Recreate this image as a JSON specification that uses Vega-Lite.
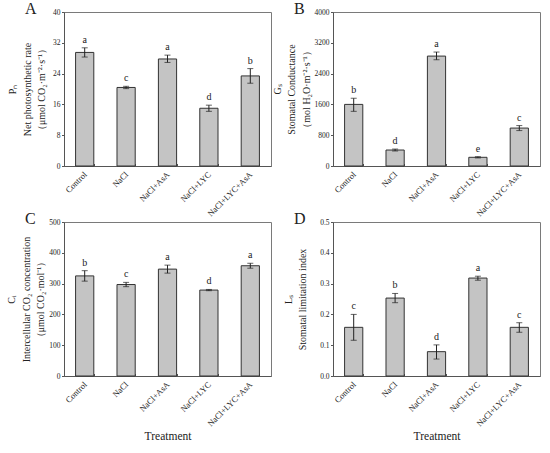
{
  "$schema": "https://vega.github.io/schema/vega-lite/v6.json",
  "background": "white",
  "padding": {"left": 6, "top": 0, "right": 4, "bottom": 4},
  "datasets": {
    "pn": [
      {"treatment": "Control", "mean": 29.5, "lo": 28.3, "hi": 30.7, "letter": "a"},
      {"treatment": "NaCl", "mean": 20.4, "lo": 20.1, "hi": 20.7, "letter": "c"},
      {"treatment": "NaCl+AsA", "mean": 27.8, "lo": 26.9, "hi": 28.8, "letter": "a"},
      {"treatment": "NaCl+LYC", "mean": 15.0, "lo": 14.2, "hi": 15.8, "letter": "d"},
      {"treatment": "NaCl+LYC+AsA", "mean": 23.4, "lo": 21.5, "hi": 25.3, "letter": "b"}
    ],
    "gs": [
      {"treatment": "Control", "mean": 1600, "lo": 1420, "hi": 1760, "letter": "b"},
      {"treatment": "NaCl", "mean": 415, "lo": 390, "hi": 440, "letter": "d"},
      {"treatment": "NaCl+AsA", "mean": 2855, "lo": 2760, "hi": 2960, "letter": "a"},
      {"treatment": "NaCl+LYC", "mean": 226, "lo": 210, "hi": 242, "letter": "e"},
      {"treatment": "NaCl+LYC+AsA", "mean": 985, "lo": 920, "hi": 1050, "letter": "c"}
    ],
    "ci": [
      {"treatment": "Control", "mean": 325, "lo": 308, "hi": 342, "letter": "b"},
      {"treatment": "NaCl", "mean": 297, "lo": 290, "hi": 304, "letter": "c"},
      {"treatment": "NaCl+AsA", "mean": 347, "lo": 334, "hi": 360, "letter": "a"},
      {"treatment": "NaCl+LYC", "mean": 279, "lo": 277, "hi": 281, "letter": "d"},
      {"treatment": "NaCl+LYC+AsA", "mean": 358, "lo": 350, "hi": 366, "letter": "a"}
    ],
    "ls": [
      {"treatment": "Control", "mean": 0.158, "lo": 0.116, "hi": 0.2, "letter": "c"},
      {"treatment": "NaCl", "mean": 0.253, "lo": 0.238, "hi": 0.268, "letter": "b"},
      {"treatment": "NaCl+AsA", "mean": 0.079, "lo": 0.055, "hi": 0.101, "letter": "d"},
      {"treatment": "NaCl+LYC", "mean": 0.318, "lo": 0.311, "hi": 0.324, "letter": "a"},
      {"treatment": "NaCl+LYC+AsA", "mean": 0.158, "lo": 0.142, "hi": 0.173, "letter": "c"}
    ]
  },
  "columns": 2,
  "bounds": "flush",
  "spacing": {"column": 62, "row": 56},
  "resolve": {"scale": {"y": "independent"}},
  "concat": [
    {
      "title": "A",
      "width": 207,
      "height": 154,
      "data": {"name": "pn"},
      "encoding": {
        "x": {"field": "treatment", "type": "nominal", "sort": null, "scale": {"paddingInner": 0.56, "paddingOuter": 0.28}, "axis": {"title": null}}
      },
      "layer": [
        {
          "mark": {"type": "bar", "fill": "#c4c4c4", "stroke": "#333333", "strokeWidth": 1},
          "encoding": {
            "y": {"field": "mean", "type": "quantitative", "scale": {"domain": [0, 40], "nice": false},
              "axis": {"values": [0, 8, 16, 24, 32, 40], "tickCount": 6, "titlePadding": 6, "title": ["Pₙ", "Net photosynthetic rate", "（μmol CO₂·m⁻²·s⁻¹）"]}}
          }
        },
        {"mark": {"type": "rule", "color": "#222222", "strokeWidth": 1}, "encoding": {"y": {"field": "lo", "type": "quantitative"}, "y2": {"field": "hi"}}},
        {"mark": {"type": "tick", "color": "#222222", "thickness": 1, "size": 6}, "encoding": {"y": {"field": "lo", "type": "quantitative"}}},
        {"mark": {"type": "tick", "color": "#222222", "thickness": 1, "size": 6}, "encoding": {"y": {"field": "hi", "type": "quantitative"}}},
        {
          "mark": {"type": "text", "baseline": "bottom", "dy": -3, "fontSize": 10, "font": "Liberation Serif", "color": "#222222"},
          "encoding": {"y": {"field": "hi", "type": "quantitative"}, "text": {"field": "letter"}}
        }
      ]
    },
    {
      "title": "B",
      "width": 207,
      "height": 154,
      "data": {"name": "gs"},
      "encoding": {
        "x": {"field": "treatment", "type": "nominal", "sort": null, "scale": {"paddingInner": 0.56, "paddingOuter": 0.28}, "axis": {"title": null}}
      },
      "layer": [
        {
          "mark": {"type": "bar", "fill": "#c4c4c4", "stroke": "#333333", "strokeWidth": 1},
          "encoding": {
            "y": {"field": "mean", "type": "quantitative", "scale": {"domain": [0, 4000], "nice": false},
              "axis": {"values": [0, 800, 1600, 2400, 3200, 4000], "tickCount": 6, "format": "d", "titlePadding": 3, "title": ["Gₛ", "Stomatal Conductance", "（mol H₂O·m⁻²·s⁻¹）"]}}
          }
        },
        {"mark": {"type": "rule", "color": "#222222", "strokeWidth": 1}, "encoding": {"y": {"field": "lo", "type": "quantitative"}, "y2": {"field": "hi"}}},
        {"mark": {"type": "tick", "color": "#222222", "thickness": 1, "size": 6}, "encoding": {"y": {"field": "lo", "type": "quantitative"}}},
        {"mark": {"type": "tick", "color": "#222222", "thickness": 1, "size": 6}, "encoding": {"y": {"field": "hi", "type": "quantitative"}}},
        {
          "mark": {"type": "text", "baseline": "bottom", "dy": -3, "fontSize": 10, "font": "Liberation Serif", "color": "#222222"},
          "encoding": {"y": {"field": "hi", "type": "quantitative"}, "text": {"field": "letter"}}
        }
      ]
    },
    {
      "title": "C",
      "width": 207,
      "height": 154,
      "data": {"name": "ci"},
      "encoding": {
        "x": {"field": "treatment", "type": "nominal", "sort": null, "scale": {"paddingInner": 0.56, "paddingOuter": 0.28}, "axis": {"title": "Treatment"}}
      },
      "layer": [
        {
          "mark": {"type": "bar", "fill": "#c4c4c4", "stroke": "#333333", "strokeWidth": 1},
          "encoding": {
            "y": {"field": "mean", "type": "quantitative", "scale": {"domain": [0, 500], "nice": false},
              "axis": {"values": [0, 100, 200, 300, 400, 500], "tickCount": 6, "titlePadding": 3, "title": ["Cᵢ", "Intercellular CO₂ concentration", "（μmol CO₂·mol⁻¹）"]}}
          }
        },
        {"mark": {"type": "rule", "color": "#222222", "strokeWidth": 1}, "encoding": {"y": {"field": "lo", "type": "quantitative"}, "y2": {"field": "hi"}}},
        {"mark": {"type": "tick", "color": "#222222", "thickness": 1, "size": 6}, "encoding": {"y": {"field": "lo", "type": "quantitative"}}},
        {"mark": {"type": "tick", "color": "#222222", "thickness": 1, "size": 6}, "encoding": {"y": {"field": "hi", "type": "quantitative"}}},
        {
          "mark": {"type": "text", "baseline": "bottom", "dy": -3, "fontSize": 10, "font": "Liberation Serif", "color": "#222222"},
          "encoding": {"y": {"field": "hi", "type": "quantitative"}, "text": {"field": "letter"}}
        }
      ]
    },
    {
      "title": "D",
      "width": 207,
      "height": 154,
      "data": {"name": "ls"},
      "encoding": {
        "x": {"field": "treatment", "type": "nominal", "sort": null, "scale": {"paddingInner": 0.56, "paddingOuter": 0.28}, "axis": {"title": "Treatment"}}
      },
      "layer": [
        {
          "mark": {"type": "bar", "fill": "#c4c4c4", "stroke": "#333333", "strokeWidth": 1},
          "encoding": {
            "y": {"field": "mean", "type": "quantitative", "scale": {"domain": [0, 0.5], "nice": false},
              "axis": {"values": [0, 0.1, 0.2, 0.3, 0.4, 0.5], "tickCount": 6, "format": ".1f", "titlePadding": 12, "title": ["Lₛ", "Stomatal limitation index"]}}
          }
        },
        {"mark": {"type": "rule", "color": "#222222", "strokeWidth": 1}, "encoding": {"y": {"field": "lo", "type": "quantitative"}, "y2": {"field": "hi"}}},
        {"mark": {"type": "tick", "color": "#222222", "thickness": 1, "size": 6}, "encoding": {"y": {"field": "lo", "type": "quantitative"}}},
        {"mark": {"type": "tick", "color": "#222222", "thickness": 1, "size": 6}, "encoding": {"y": {"field": "hi", "type": "quantitative"}}},
        {
          "mark": {"type": "text", "baseline": "bottom", "dy": -3, "fontSize": 10, "font": "Liberation Serif", "color": "#222222"},
          "encoding": {"y": {"field": "hi", "type": "quantitative"}, "text": {"field": "letter"}}
        }
      ]
    }
  ],
  "config": {
    "font": "Liberation Serif",
    "view": {"stroke": "#7a7a7a", "strokeWidth": 1},
    "axis": {
      "grid": false,
      "domainColor": "#555555",
      "tickColor": "#555555",
      "labelFont": "Liberation Serif",
      "labelColor": "#222222",
      "labelOverlap": false,
      "titleFont": "Liberation Serif",
      "titleFontWeight": "normal",
      "titleColor": "#222222"
    },
    "axisX": {
      "labelAngle": -45,
      "labelAlign": "right",
      "labelBaseline": "middle",
      "labelFontSize": 8.5,
      "tickBand": "extent",
      "tickSize": -2.5,
      "labelPadding": 9,
      "titleFontSize": 11.5,
      "titlePadding": 3
    },
    "axisY": {
      "labelFontSize": 7.5,
      "tickSize": 2.5,
      "labelPadding": 1.5,
      "titleFontSize": 10,
      "titleLineHeight": 14.5
    },
    "title": {
      "font": "Liberation Serif",
      "fontSize": 16,
      "fontWeight": "normal",
      "color": "#222222",
      "anchor": "start",
      "frame": "group",
      "dx": -39,
      "offset": -9,
      "baseline": "alphabetic"
    }
  }
}
